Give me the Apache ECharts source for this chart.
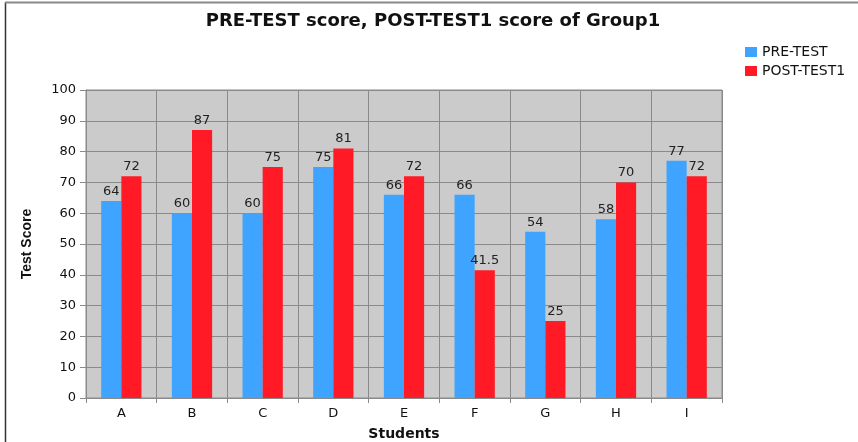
<!DOCTYPE html>
<html>
<head>
<meta charset="utf-8">
<script src="https://cdn.jsdelivr.net/npm/echarts@6/dist/echarts.min.js"></script>
<style>
  html, body { margin: 0; padding: 0; background: #fff; }
  #chart { width: 858px; height: 442px; }
</style>
</head>
<body>
<div id="chart"></div>
<script>
const students = ['A', 'B', 'C', 'D', 'E', 'F', 'G', 'H', 'I'];
const preTest = [64, 60, 60, 75, 66, 66, 54, 58, 77];
const postTest1 = [72, 87, 75, 81, 72, 41.5, 25, 70, 72];
const seriesNames = ['PRE-TEST', 'POST-TEST1'];

const GRID_LINE = '#8a8a8a';
const FONT = '"DejaVu Sans", Verdana, sans-serif';

const chart = echarts.init(document.getElementById('chart'), null, { renderer: 'canvas' });

const labelStyle = {
  show: true,
  position: 'top',
  distance: 3,
  color: '#222',
  fontFamily: FONT,
  fontSize: 13,
};

chart.setOption({
  animation: false,
  backgroundColor: '#fff',
  title: {
    text: 'PRE-TEST score, POST-TEST1 score of Group1',
    left: 428,
    textAlign: 'center',
    top: 7,
    textStyle: { fontFamily: FONT, fontSize: 18, fontWeight: 'bold', color: '#111' },
  },
  legend: {
    orient: 'vertical',
    left: 740,
    top: 40,
    itemWidth: 12,
    itemHeight: 10,
    itemGap: 5,
    icon: 'rect',
    textStyle: { fontFamily: FONT, fontSize: 14, color: '#111' },
    data: seriesNames,
  },
  grid: {
    left: 86,
    right: 136,
    top: 90,
    bottom: 44,
    outerBoundsMode: 'none',
    show: true,
    backgroundColor: '#cbcbcb',
    borderColor: GRID_LINE,
    borderWidth: 1,
  },
  xAxis: {
    type: 'category',
    data: students,
    name: 'Students',
    nameLocation: 'middle',
    nameGap: 29,
    nameTextStyle: { fontFamily: FONT, fontSize: 14, fontWeight: 'bold', color: '#111' },
    axisLine: { lineStyle: { color: GRID_LINE } },
    axisTick: { show: true, length: 5, lineStyle: { color: GRID_LINE } },
    axisLabel: { fontFamily: FONT, fontSize: 13, color: '#111', margin: 9 },
    splitLine: { show: true, lineStyle: { color: GRID_LINE } },
  },
  yAxis: {
    type: 'value',
    min: 0,
    max: 100,
    interval: 10,
    name: 'Test Score',
    nameLocation: 'middle',
    nameGap: 52,
    nameTextStyle: { fontFamily: '"Liberation Sans Narrow", "Liberation Sans", sans-serif', fontSize: 14, fontWeight: 'bold', color: '#111' },
    axisLine: { show: true, lineStyle: { color: GRID_LINE } },
    axisTick: { show: true, length: 6, lineStyle: { color: GRID_LINE } },
    axisLabel: { fontFamily: FONT, fontSize: 13, color: '#111', margin: 10 },
    splitLine: { show: true, lineStyle: { color: GRID_LINE } },
  },
  series: [
    {
      name: seriesNames[0],
      type: 'bar',
      data: preTest,
      barGap: '0%',
      barCategoryGap: '43%',
      itemStyle: { color: '#3fa4ff' },
      label: labelStyle,
    },
    {
      name: seriesNames[1],
      type: 'bar',
      data: postTest1,
      itemStyle: { color: '#ff1a25' },
      label: labelStyle,
    },
  ],
  graphic: [
    { type: 'line', shape: { x1: 5.5, y1: 2, x2: 5.5, y2: 442 }, style: { stroke: '#333', lineWidth: 1.5 } },
    { type: 'line', shape: { x1: 5, y1: 2.5, x2: 858, y2: 2.5 }, style: { stroke: '#888', lineWidth: 2 } },
  ],
});
</script>
</body>
</html>
